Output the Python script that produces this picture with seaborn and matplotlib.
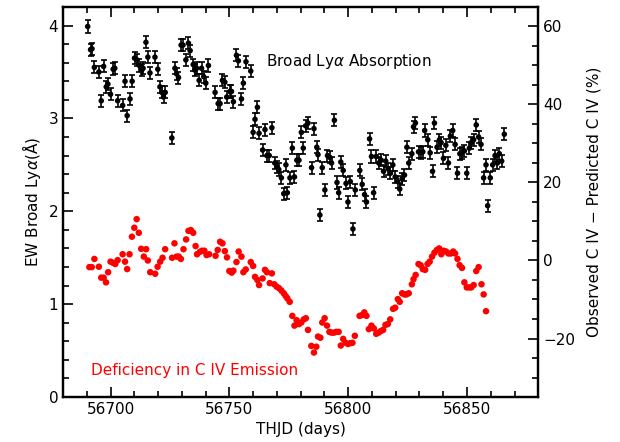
import seaborn as sns
import matplotlib.pyplot as plt
import pandas as pd
from matplotlib.ticker import MultipleLocator

# broad Lya absorption (left axis)
lya_day = [56690.4, 56691.6, 56692.2, 56693.2, 56695.1, 56696.1, 56697.1, 56698.2, 56698.9, 56700.0,
           56701.1, 56701.8, 56703.0, 56705.1, 56706.1, 56707.0, 56708.2, 56709.1, 56710.1, 56711.1,
           56712.1, 56713.1, 56713.7, 56714.9, 56715.7, 56716.6, 56718.7, 56719.9, 56720.8, 56721.6,
           56722.3, 56723.0, 56725.8, 56727.1, 56727.8, 56728.6, 56729.7, 56730.5, 56731.7, 56732.8,
           56733.5, 56734.8, 56735.5, 56736.2, 56737.3, 56738.3, 56739.2, 56740.1, 56741.2, 56744.0,
           56745.3, 56746.1, 56747.1, 56748.1, 56748.9, 56750.2, 56750.9, 56751.7, 56753.0, 56753.8,
           56755.1, 56755.9, 56757.0, 56759.0, 56760.0, 56760.8, 56761.8, 56762.5, 56764.0, 56765.0,
           56765.8, 56766.8, 56767.9, 56769.1, 56770.0, 56770.8, 56771.9, 56772.9, 56773.8, 56774.4,
           56775.5, 56776.5, 56777.4, 56778.4, 56779.3, 56780.3, 56781.1, 56782.1, 56783.1, 56784.6,
           56785.6, 56786.8, 56787.3, 56788.1, 56789.1, 56790.2, 56791.3, 56792.3, 56793.0, 56794.2,
           56795.3, 56796.0, 56796.9, 56797.9, 56799.1, 56799.9, 56800.9, 56802.0, 56803.0, 56804.9,
           56805.9, 56806.9, 56807.7, 56809.0, 56809.8, 56810.7, 56811.8, 56812.9, 56813.9, 56814.9,
           56815.8, 56816.8, 56817.8, 56818.8, 56819.8, 56820.8, 56821.7, 56822.7, 56823.7, 56824.7,
           56825.5, 56826.8, 56827.5, 56828.3, 56829.6, 56830.7, 56831.4, 56832.2, 56833.5, 56834.5,
           56835.5, 56836.3, 56837.4, 56838.4, 56839.1, 56840.1, 56841.1, 56842.2, 56843.0, 56844.0,
           56845.0, 56846.0, 56847.0, 56847.9, 56848.9, 56849.9, 56851.0, 56851.8, 56852.8, 56853.9,
           56854.9, 56855.9, 56857.0, 56858.0, 56858.7, 56859.8, 56860.8, 56861.8, 56862.8, 56863.6,
           56864.6, 56865.7]
lya_ew = [3.99, 3.74, 3.75, 3.55, 3.50, 3.19, 3.56, 3.34, 3.37, 3.26,
          3.53, 3.54, 3.19, 3.14, 3.40, 3.03, 3.21, 3.40, 3.65, 3.63,
          3.57, 3.52, 3.54, 3.82, 3.66, 3.49, 3.66, 3.53, 3.34, 3.28,
          3.23, 3.28, 2.79, 3.54, 3.48, 3.44, 3.79, 3.79, 3.63, 3.81,
          3.73, 3.58, 3.52, 3.54, 3.41, 3.54, 3.45, 3.38, 3.57, 3.28,
          3.16, 3.16, 3.41, 3.39, 3.23, 3.29, 3.29, 3.18, 3.68, 3.62,
          3.21, 3.38, 3.61, 3.51, 2.85, 2.99, 3.12, 2.84, 2.66, 2.88,
          2.60, 2.60, 2.90, 2.52, 2.48, 2.45, 2.36, 2.19, 2.50, 2.20,
          2.36, 2.68, 2.37, 2.55, 2.55, 2.85, 2.68, 2.92, 2.95, 2.47,
          2.89, 2.69, 2.61, 1.96, 2.47, 2.23, 2.60, 2.58, 2.52, 2.98,
          2.31, 2.20, 2.53, 2.44, 2.30, 2.10, 2.32, 1.81, 2.23, 2.44,
          2.29, 2.18, 2.10, 2.78, 2.59, 2.20, 2.59, 2.52, 2.55, 2.43,
          2.54, 2.46, 2.41, 2.50, 2.37, 2.32, 2.24, 2.35, 2.39, 2.69,
          2.52, 2.62, 2.91, 2.95, 2.64, 2.63, 2.64, 2.87, 2.77, 2.63,
          2.43, 2.95, 2.69, 2.77, 2.74, 2.57, 2.71, 2.52, 2.81, 2.87,
          2.72, 2.41, 2.62, 2.63, 2.65, 2.41, 2.68, 2.74, 2.77, 2.93,
          2.80, 2.72, 2.36, 2.50, 2.06, 2.36, 2.50, 2.60, 2.52, 2.62,
          2.54, 2.83]
lya_err = 0.065

# C IV deficiency (right axis, %)
civ_day = [56691.1, 56692.1, 56693.2, 56695.1, 56696.1, 56697.1, 56698.1, 56699.0, 56700.0, 56701.1,
           56702.0, 56703.0, 56705.1, 56706.1, 56707.0, 56708.0, 56709.0, 56710.0, 56711.0, 56711.9,
           56712.9, 56714.0, 56715.0, 56715.7, 56716.7, 56718.8, 56719.8, 56720.9, 56721.9, 56723.0,
           56725.9, 56726.9, 56727.8, 56728.7, 56729.6, 56730.7, 56731.8, 56732.8, 56733.8, 56734.8,
           56735.8, 56736.4, 56737.6, 56738.5, 56739.5, 56740.4, 56741.5, 56744.2, 56745.1, 56746.1,
           56747.1, 56748.1, 56749.0, 56750.0, 56751.0, 56751.7, 56753.0, 56753.9, 56755.1, 56755.9,
           56756.9, 56759.0, 56760.0, 56760.8, 56761.8, 56762.5, 56764.0, 56765.0, 56765.8, 56767.0,
           56767.9, 56768.9, 56769.9, 56770.9, 56771.9, 56772.9, 56773.7, 56774.4, 56775.4, 56776.5,
           56777.4, 56778.3, 56779.3, 56780.3, 56781.3, 56782.2, 56783.1, 56784.5, 56785.6, 56786.6,
           56787.3, 56788.3, 56789.1, 56790.1, 56791.1, 56792.1, 56793.0, 56794.0, 56795.0, 56796.0,
           56796.9, 56797.9, 56798.9, 56799.9, 56800.9, 56801.8, 56802.8, 56804.8, 56805.8, 56806.8,
           56807.7, 56808.7, 56809.8, 56810.8, 56811.8, 56812.8, 56813.7, 56814.7, 56815.7, 56816.7,
           56817.7, 56818.9, 56819.8, 56820.9, 56821.7, 56822.7, 56823.7, 56824.5, 56825.5, 56826.8,
           56827.5, 56828.4, 56829.6, 56830.5, 56831.4, 56832.4, 56833.4, 56834.3, 56835.3, 56836.3,
           56837.3, 56838.3, 56839.2, 56840.2, 56841.2, 56842.2, 56843.2, 56844.2, 56845.0, 56846.0,
           56846.9, 56847.9, 56848.9, 56849.9, 56850.9, 56851.8, 56852.8, 56853.9, 56854.9, 56856.1,
           56857.0, 56858.0]
civ_pct = [-1.7, -1.7, 0.4, -1.6, -4.4, -4.4, -5.6, -3.0, -0.3, -0.6,
           -0.9, 0.1, 1.6, -0.3, -2.2, 1.6, 6.1, 8.4, 10.6, 7.1,
           3.0, 1.0, 2.9, 0.0, -3.0, -3.4, -1.6, -0.3, 0.7, 2.9,
           0.7, 4.4, 1.0, 1.0, 0.4, 2.9, 5.4, 7.6, 7.8, 7.1,
           3.7, 1.6, 2.2, 2.5, 2.5, 1.4, 1.6, 1.2, 2.7, 4.8,
           4.4, 2.4, 0.8, -2.7, -3.1, -2.6, -0.4, 2.3, 1.0, -3.0,
           -2.3, -0.4, -1.4, -4.2, -5.0, -6.3, -4.6, -2.4, -3.0, -5.8,
           -3.3, -6.1, -6.7, -7.1, -7.7, -8.4, -9.1, -9.7, -10.6, -14.2,
           -16.7, -15.3, -16.3, -15.9, -15.1, -14.8, -17.8, -21.9, -23.6, -22.1,
           -19.5, -19.8, -15.9, -14.8, -16.7, -18.3, -18.5, -18.5, -18.3, -18.3,
           -21.8, -20.1, -21.1, -21.4, -21.2, -21.1, -19.3, -14.2, -14.0, -13.3,
           -14.2, -17.6, -16.7, -17.4, -18.8, -18.5, -18.1, -17.8, -16.5, -16.3,
           -15.1, -12.4, -12.1, -9.9, -10.6, -8.4, -8.7, -8.7, -8.4, -6.1,
           -4.8, -3.7, -0.9, -1.2, -2.2, -2.4, -0.9, -0.3, 1.0, 2.0,
           2.7, 3.1, 1.6, 2.5, 2.3, 1.8, 1.8, 2.3, 1.8, 0.4,
           -1.2, -1.9, -5.6, -6.9, -6.9, -6.9, -6.3, -2.7, -1.7, -6.1,
           -8.7, -13.0]

lya = pd.DataFrame({'day': lya_day, 'ew': lya_ew})
civ = pd.DataFrame({'day': civ_day, 'pct': civ_pct})

sns.set_style("ticks", {'axes.edgecolor': 'black', 'text.color': 'black',
                        'xtick.color': 'black', 'ytick.color': 'black',
                        'axes.labelcolor': 'black'})
plt.rcParams['font.family'] = ['DejaVu Sans']
plt.rcParams['font.size'] = 11

fig = plt.figure(figsize=(6.2, 4.42), dpi=100)
ax = fig.add_axes([0.1016, 0.1018, 0.7666, 0.8824])
ax2 = ax.twinx()

ax.errorbar(lya.day, lya.ew, yerr=lya_err, fmt='none', ecolor='black',
            elinewidth=1.2, capsize=2.2, capthick=1.2, zorder=2)
sns.scatterplot(data=lya, x='day', y='ew', ax=ax, color='black', s=16,
                edgecolor='none', zorder=3)
sns.scatterplot(data=civ, x='day', y='pct', ax=ax2, color='red', s=22,
                edgecolor='none', zorder=3)

ax.set_xlim(56680, 56880)
ax.set_ylim(0, 4.2)
ax2.set_ylim(-35, 65)

ax.xaxis.set_major_locator(MultipleLocator(50))
ax.xaxis.set_minor_locator(MultipleLocator(10))
ax.yaxis.set_major_locator(MultipleLocator(1))
ax.yaxis.set_minor_locator(MultipleLocator(0.2))
ax2.yaxis.set_major_locator(MultipleLocator(20))
ax2.yaxis.set_minor_locator(MultipleLocator(5))

ax.tick_params(which='both', direction='in', top=True, right=False, width=1.2, color='black')
ax.tick_params(which='major', length=7)
ax.tick_params(which='minor', length=4)
ax2.tick_params(which='both', direction='in', width=1.2, color='black')
ax2.tick_params(which='major', length=7)
ax2.tick_params(which='minor', length=4)
ax2.set_yticks([-20, 0, 20, 40, 60])
ax2.set_yticklabels(['\u221220', '0', '20', '40', '60'])

for a in (ax, ax2):
    for sp in a.spines.values():
        sp.set_linewidth(1.6)
        sp.set_color('black')
        sp.set_visible(True)

ax.set_xlabel('THJD (days)', color='black')
ax.set_ylabel('EW Broad Ly$\\alpha$(\u00c5)', color='black')
ax2.set_ylabel('Observed C IV \u2212 Predicted C IV (%)', labelpad=8, color='black')

ax.text(56765.3, 3.61, 'Broad Ly$\\alpha$ Absorption', ha='left', va='center',
        color='black', fontsize=11)
ax.text(56691.6, 0.29, 'Deficiency in C IV Emission', ha='left', va='center',
        color='red', fontsize=11)

fig.savefig('out.png', dpi=100)
